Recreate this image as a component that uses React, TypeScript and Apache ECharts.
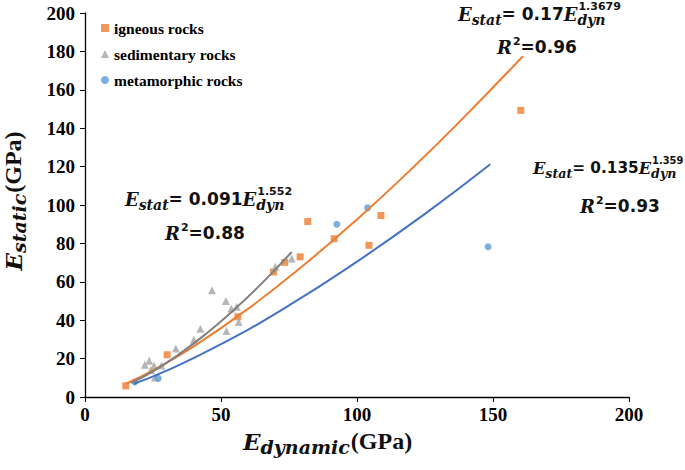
import React, { useEffect, useRef } from "react";
import * as echarts from "echarts";

// ---- data ----
const igneousX = [15.0, 30.2, 56.2, 69.3, 73.4, 79.1, 81.9, 91.6, 104.4, 108.8, 160.2];
const igneousY = [5.8, 22.0, 41.8, 65.1, 70.1, 73.0, 91.4, 82.4, 79.0, 94.5, 149.3];

const sedX = [22.0, 23.6, 25.4, 24.2, 25.7, 28.1, 33.4, 40.0, 42.4, 46.7, 51.8, 52.0, 53.8, 55.8, 56.5, 70.0, 76.0];
const sedY = [16.8, 18.9, 16.3, 14.0, 10.2, 16.4, 25.3, 29.8, 35.5, 55.6, 50.0, 34.4, 46.1, 47.0, 39.0, 67.8, 72.1];

const metaX = [18.3, 26.9, 92.6, 103.9, 148.2];
const metaY = [7.8, 9.7, 90.0, 98.5, 78.3];

// trend curves as drawn in the reference
const igneousFitX = [15, 25, 40, 60, 80, 100, 120, 140, 161];
const igneousFitY = [6.9, 13.9, 26.4, 46.0, 68.2, 92.5, 118.7, 146.7, 177.5];
const sedFitX = [17, 25, 35, 45, 55, 65, 76];
const sedFitY = [7.4, 13.4, 22.7, 33.5, 45.7, 59.2, 75.5];
const metaFitX = [18, 30, 50, 75, 100, 125, 149];
const metaFitY = [6.9, 13.7, 27.5, 47.7, 70.5, 95.4, 121.2];

const seriesNames = ["igneous rocks", "sedimentary rocks", "metamorphic rocks"];
const xTicks = { min: 0, max: 200, interval: 50 };
const yTicks = { min: 0, max: 200, interval: 20 };

const eqCoefs = ["0.17", "0.091", "0.135"];
const eqExps = ["1.3679", "1.552", "1.359"];
const eqR2 = ["0.96", "0.88", "0.93"];

const ORANGE = "#ED7D31";
const GRAY = "#A5A5A5";
const BLUE = "#5B9BD5";

type Frag = { t: string; fam: string; size: number; italic: boolean; dy: number; keep?: boolean; dx?: number };

const SERIF = "DejaVu Serif";
const SANS = "DejaVu Sans";
const TIMES = "Liberation Serif";

let ctx: CanvasRenderingContext2D | null = null;
function measure(f: Frag): number {
  if (!ctx) ctx = document.createElement("canvas").getContext("2d");
  if (!ctx) return f.t.length * f.size * 0.6;
  ctx.font = `${f.italic ? "italic " : ""}bold ${f.size}px "${f.fam}"`;
  return ctx.measureText(f.t).width;
}

function buildFrags(frags: Frag[], x0: number, y0: number) {
  let x = x0;
  const els: any[] = [];
  for (const f of frags) {
    x += f.dx || 0;
    els.push({
      type: "text",
      x,
      y: y0 + f.dy,
      style: {
        text: f.t,
        fontFamily: f.fam,
        fontSize: f.size,
        fontWeight: "bold",
        fontStyle: f.italic ? "italic" : "normal",
        fill: "#111",
        align: "left",
        verticalAlign: "middle",
      },
    });
    if (!f.keep) x += measure(f);
  }
  return { els, width: x - x0 };
}

function eqFrags(coef: string, exp: string, k: number): Frag[] {
  return [
    { t: "E", fam: SERIF, size: 18 * k, italic: true, dy: 0 },
    { t: "stat", fam: SERIF, size: 14 * k, italic: true, dy: 6 * k },
    { t: "= " + coef, fam: SANS, size: 17 * k, italic: false, dy: 0 },
    { t: "E", fam: SERIF, size: 18 * k, italic: true, dy: 0 },
    { t: "dyn", fam: SERIF, size: 14 * k, italic: true, dy: 6 * k, keep: true },
    { t: exp, fam: SANS, size: 11 * k, italic: false, dy: -8 * k, dx: 1 },
  ];
}
function r2Frags(r2: string): Frag[] {
  return [
    { t: "R", fam: SERIF, size: 18, italic: true, dy: 0 },
    { t: "2", fam: SANS, size: 11, italic: false, dy: -6, dx: 1 },
    { t: "=" + r2, fam: SANS, size: 17, italic: false, dy: 0 },
  ];
}
function titleFrags(sub: string): Frag[] {
  return [
    { t: "E", fam: SERIF, size: 23, italic: true, dy: 0 },
    { t: sub, fam: SERIF, size: 19, italic: true, dy: 6 },
    { t: "(GPa)", fam: TIMES, size: 24, italic: false, dy: 0, dx: 1 },
  ];
}

export default function App() {
  const ref = useRef<HTMLDivElement>(null);
  useEffect(() => {
    document.body.style.margin = "0";
    if (!ref.current) return;
    const chart = echarts.init(ref.current, undefined, { renderer: "svg" });

    const graphics: any[] = [];
    const eqPos = [
      { x: 458, y: 14, rx: 497, ry: 47, k: 1 },
      { x: 125, y: 199, rx: 165, ry: 233, k: 1 },
      { x: 533, y: 168, rx: 580, ry: 206, k: 0.9 },
    ];
    eqPos.forEach((p, i) => {
      graphics.push(...buildFrags(eqFrags(eqCoefs[i], eqExps[i], p.k), p.x, p.y).els);
      graphics.push(...buildFrags(r2Frags(eqR2[i]), p.rx, p.ry).els);
    });
    // x axis title
    graphics.push(...buildFrags(titleFrags("dynamic"), 243, 441).els);
    // y axis title (rotated)
    const yt = titleFrags("static");
    const tmp = buildFrags(yt, 0, 0);
    const yEls = buildFrags(yt, -tmp.width / 2, 0).els;
    graphics.push({ type: "group", x: 13, y: 201, rotation: Math.PI / 2, children: yEls });

    const zip = (a: number[], b: number[]) => a.map((v, i) => [v, b[i]]);

    chart.setOption({
      animation: false,
      backgroundColor: "#fff",
      grid: { left: 85, right: 56, top: 13, bottom: 73 },
      legend: {
        data: seriesNames,
        orient: "vertical",
        left: 96,
        top: 15,
        itemWidth: 8,
        itemHeight: 8,
        itemGap: 10,
        textStyle: { fontFamily: TIMES, fontWeight: "bold", fontSize: 15.5, color: "#000", lineHeight: 16 },
      },
      xAxis: {
        type: "value",
        min: xTicks.min,
        max: xTicks.max,
        interval: xTicks.interval,
        splitLine: { show: false },
        axisLine: { show: true, onZero: false, lineStyle: { color: "#000", width: 1.3 } },
        axisTick: { show: true, length: 5, lineStyle: { color: "#000" } },
        axisLabel: { color: "#000", fontFamily: TIMES, fontWeight: "bold", fontSize: 19, margin: 8 },
      },
      yAxis: {
        type: "value",
        min: yTicks.min,
        max: yTicks.max,
        interval: yTicks.interval,
        splitLine: { show: false },
        axisLine: { show: true, onZero: false, lineStyle: { color: "#000", width: 1.3 } },
        axisTick: { show: true, length: 5, lineStyle: { color: "#000" } },
        axisLabel: { color: "#000", fontFamily: TIMES, fontWeight: "bold", fontSize: 19, margin: 10 },
      },
      series: [
        { name: seriesNames[0], type: "scatter", symbol: "rect", symbolSize: 7, itemStyle: { color: ORANGE }, data: zip(igneousX, igneousY), z: 3 },
        { name: seriesNames[1], type: "scatter", symbol: "triangle", symbolSize: 8, itemStyle: { color: GRAY }, data: zip(sedX, sedY), z: 3 },
        { name: seriesNames[2], type: "scatter", symbol: "circle", symbolSize: 7, itemStyle: { color: BLUE }, data: zip(metaX, metaY), z: 3 },
        { type: "line", smooth: true, showSymbol: false, symbol: "none", lineStyle: { color: ORANGE, width: 2 }, data: zip(igneousFitX, igneousFitY), z: 4 },
        { type: "line", smooth: true, showSymbol: false, symbol: "none", lineStyle: { color: "#808080", width: 2 }, data: zip(sedFitX, sedFitY), z: 4 },
        { type: "line", smooth: true, showSymbol: false, symbol: "none", lineStyle: { color: "#4472C4", width: 2 }, data: zip(metaFitX, metaFitY), z: 4 },
      ],
      graphic: graphics,
    });
    return () => chart.dispose();
  }, []);
  return <div ref={ref} style={{ width: 685, height: 470 }} />;
}
